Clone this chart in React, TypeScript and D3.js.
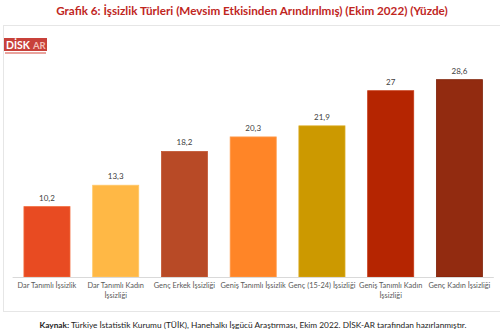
import React from "react";
import * as d3 from "d3";

const categories: string[][] = [
  ["Dar Tanımlı İşsizlik"],
  ["Dar Tanımlı Kadın", "İşsizliği"],
  ["Genç Erkek İşsizliği"],
  ["Geniş Tanımlı İşsizlik"],
  ["Genç (15-24) İşsizliği"],
  ["Geniş Tanımlı Kadın", "İşsizliği"],
  ["Genç Kadın İşsizliği"],
];
const values: number[] = [10.2, 13.3, 18.2, 20.3, 21.9, 27, 28.6];
const valueLabels: string[] = ["10,2", "13,3", "18,2", "20,3", "21,9", "27", "28,6"];
const colors: string[] = ["#E84B22", "#FFB845", "#B84A26", "#FF8527", "#CC9900", "#B52501", "#922B10"];
const strokes: string[] = ["#F26A3A", "#FFC766", "#C25733", "#FF9A4A", "#D9A81A", "#C53A17", "#7F2209"];

const W = 500;
const H = 336;
const font = "Lato, 'Open Sans', sans-serif";

export default function App() {
  const x = d3
    .scaleBand<number>()
    .domain(values.map((_, i) => i))
    .range([12.6, 493.8])
    .paddingInner(0.33)
    .paddingOuter(0.165);
  const y = d3.scaleLinear().domain([0, 35]).range([277, 35.5]);

  return (
    <svg
      width={W}
      height={H}
      style={{ position: "absolute", left: 0, top: 0, background: "#fff" }}
    >
      <text
        x={252}
        y={15}
        textAnchor="middle"
        fontFamily={font}
        fontWeight="bold"
        fontSize={11.7}
        fill="#C0261E"
      >
        Grafik 6: İşsizlik Türleri (Mevsim Etkisinden Arındırılmış) (Ekim 2022) (Yüzde)
      </text>
      <rect x={3.5} y={25.5} width={520} height={286} fill="none" stroke="#E6E6E6" />
      <g>
        <rect x={4} y={38} width={43} height={13} fill="#C8413A" />
        <text x={6} y={49} fontFamily={font} fontWeight="bold" fontSize={10.5} fill="#fff">
          DİSK
        </text>
        <text x={33} y={49} fontFamily={font} fontWeight="bold" fontSize={9.5} fill="#F3C0B8">
          AR
        </text>
        <rect x={5} y={52} width={41} height={2} fill="#E9A39D" />
      </g>
      {values.map((v, i) => (
        <rect
          key={i}
          x={x(i)!}
          y={y(v)}
          width={x.bandwidth()}
          height={y(0) - y(v)}
          fill={colors[i]}
          stroke={strokes[i]}
          strokeWidth={0.8}
        />
      ))}
      <line x1={12.6} x2={493.8} y1={y(0) + 0.5} y2={y(0) + 0.5} stroke="#D9D9D9" />
      {values.map((v, i) => (
        <text
          key={i}
          x={x(i)! + x.bandwidth() / 2}
          y={y(v) - 6}
          textAnchor="middle"
          fontFamily={font}
          fontSize={8}
          fill="#404040"
        >
          {valueLabels[i]}
        </text>
      ))}
      {categories.map((lines, i) => (
        <text
          key={i}
          x={x(i)! + x.bandwidth() / 2}
          y={y(0) + 11}
          textAnchor="middle"
          fontFamily={font}
          fontSize={7.4}
          fill="#595959"
        >
          {lines.map((l, j) => (
            <tspan key={j} x={x(i)! + x.bandwidth() / 2} dy={j === 0 ? 0 : 10}>
              {l}
            </tspan>
          ))}
        </text>
      ))}
      <text x={253} y={328} textAnchor="middle" fontFamily={font} fontSize={8.3} fill="#222">
        <tspan fontWeight="bold">Kaynak:</tspan>
        <tspan> Türkiye İstatistik Kurumu (TÜİK), Hanehalkı İşgücü Araştırması, Ekim 2022. DİSK-AR tarafından hazırlanmıştır.</tspan>
      </text>
    </svg>
  );
}
